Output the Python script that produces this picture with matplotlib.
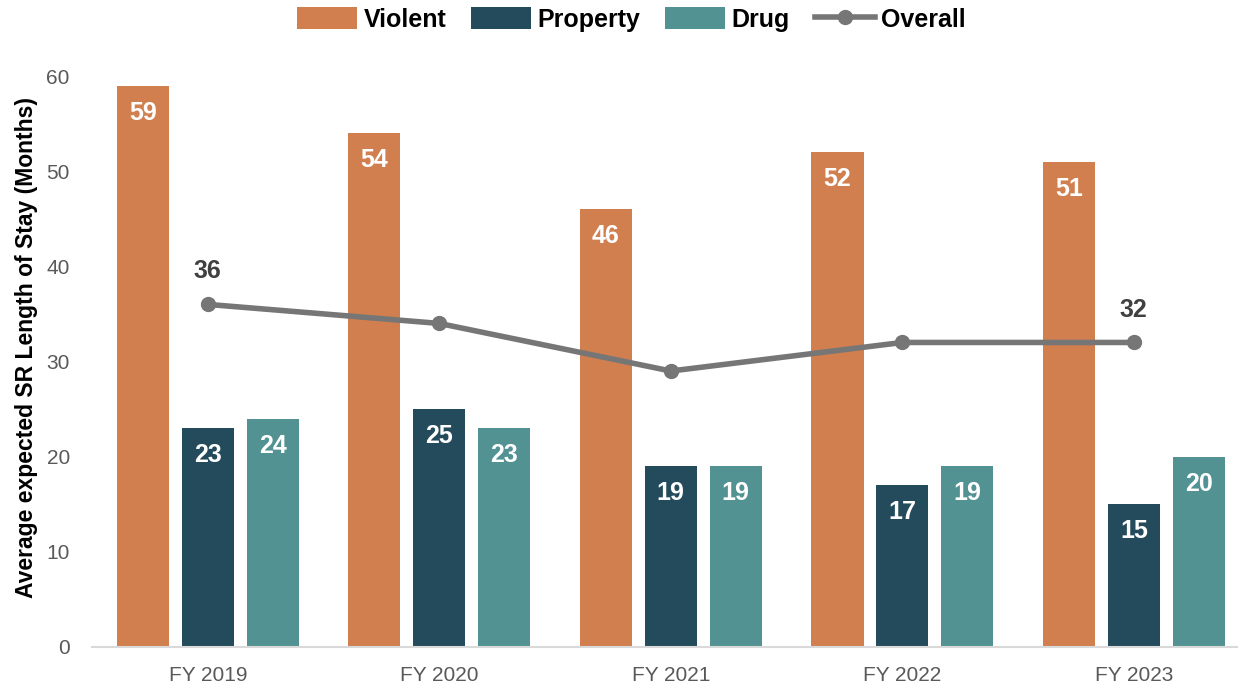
import matplotlib
matplotlib.use("Agg")
import matplotlib.pyplot as plt
import numpy as np

plt.rcParams['font.family'] = ['Liberation Sans Narrow', 'Liberation Sans', 'DejaVu Sans']

years = ["FY 2019", "FY 2020", "FY 2021", "FY 2022", "FY 2023"]
violent = [59, 54, 46, 52, 51]
property_ = [23, 25, 19, 17, 15]
drug = [24, 23, 19, 19, 20]
overall = [36, 34, 29, 32, 32]

c_v = "#D17F4F"
c_p = "#234B5C"
c_d = "#529292"
c_o = "#767676"

fig = plt.figure(figsize=(12.38, 6.86), dpi=100)
ax = fig.add_axes([92/1238, 1-647/686, 1-92/1238, (647-76)/686])

x = np.arange(len(years))
w = 0.225
off = 0.28
b1 = ax.bar(x - off, violent, w, color=c_v, label="Violent")
b2 = ax.bar(x, property_, w, color=c_p, label="Property")
b3 = ax.bar(x + off, drug, w, color=c_d, label="Drug")
ln, = ax.plot(x, overall, color=c_o, lw=4, marker="o", ms=10, label="Overall")

for bars, vals in [(b1, violent), (b2, property_), (b3, drug)]:
    for b, v in zip(bars, vals):
        ax.text(b.get_x() + b.get_width()/2, v - 1.6, str(v), ha="center", va="top",
                color="white", fontsize=18, fontweight="bold")

for i in [0, len(years)-1]:
    ax.text(x[i], overall[i] + 2.2, str(overall[i]), ha="center", va="bottom",
            color="#404040", fontsize=18, fontweight="bold")

ax.set_xlim(-0.5, 4.45)
ax.set_ylim(0, 60)
ax.set_yticks(range(0, 61, 10))
ax.set_xticks(x)
ax.set_xticklabels(years)
ax.tick_params(axis="both", length=0, labelsize=15, labelcolor="#595959")
ax.tick_params(axis="x", pad=14)
ax.tick_params(axis="y", pad=16)
for s in ["top", "right", "left"]:
    ax.spines[s].set_visible(False)
ax.spines["bottom"].set_color("#D9D9D9")
ax.spines["bottom"].set_linewidth(1.5)

ax.set_ylabel("Average expected SR Length of Stay (Months)", fontsize=16.5,
              fontweight="bold", color="black")
ax.yaxis.set_label_coords(-0.047, 0.525)

fig.legend(handles=[b1, b2, b3, ln], labels=["Violent", "Property", "Drug", "Overall"],
           loc="upper center", bbox_to_anchor=(0.51, 1.022), ncol=4, frameon=False,
           prop={"size": 18, "weight": "bold"}, handlelength=2.4, handleheight=0.95,
           columnspacing=1.0, handletextpad=0.25)

fig.savefig("out.png", dpi=100)
